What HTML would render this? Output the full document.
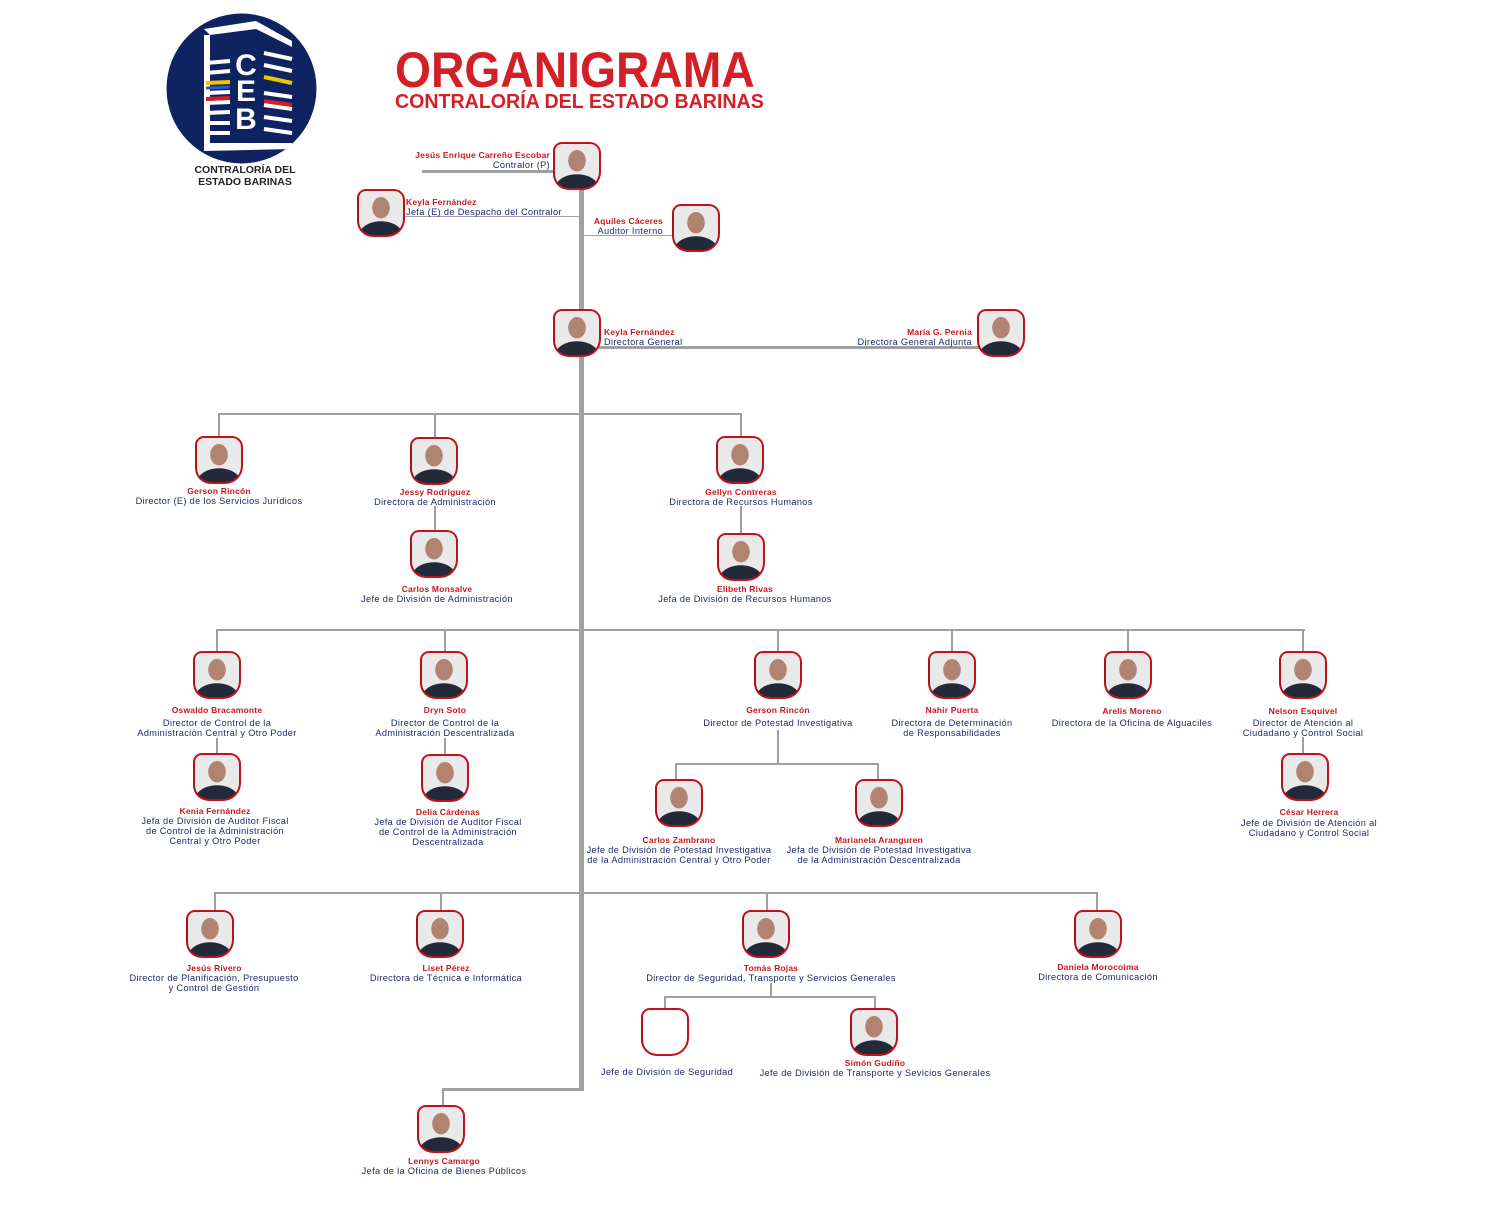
<!DOCTYPE html>
<html><head><meta charset="utf-8"><style>
body{margin:0;width:1500px;height:1229px;background:#fff;position:relative;overflow:hidden;font-family:"Liberation Sans",sans-serif}
div{position:absolute}
.p{width:44px;height:44px;border:2px solid #c1121c;border-left-color:#b01018;border-radius:9px 11px 18px 16px;
background:radial-gradient(ellipse 9px 11px at 50% 38%,#b08470 0 95%,transparent 100%),radial-gradient(ellipse 22px 14px at 50% 100%,#222a3a 0 96%,transparent 100%),#e9e9ea}
.e{background:#fff}
.n{color:#c8161e;font-weight:bold;font-size:8.5px;line-height:10px;white-space:nowrap;letter-spacing:0.2px}
.t{color:#1b2a6b;font-size:9.2px;line-height:10px;white-space:nowrap;letter-spacing:0.35px}
.c{width:320px;text-align:center}
.h{height:2px;background:#a0a0a0}
.v{width:2px;background:#a0a0a0}
</style></head><body>
<svg style="position:absolute;left:166px;top:13px" width="151" height="151" viewBox="0 0 151 151">
<circle cx="75.5" cy="75.5" r="75" fill="#0f2361"/>
<g fill="#fff">
<path d="M38 16 L90 8 L126 28 L126 34 L90 16 L44 22 Z"/>
<rect x="38" y="22" width="6" height="112"/>
<path d="M38 130 L126 130 L126 136 L38 138Z"/>
</g>
<g stroke="#fff" stroke-width="4">
<line x1="40" y1="50" x2="64" y2="48"/><line x1="40" y1="60" x2="64" y2="58"/><line x1="40" y1="80" x2="64" y2="79"/><line x1="40" y1="90" x2="64" y2="89"/><line x1="40" y1="100" x2="64" y2="99"/><line x1="40" y1="110" x2="64" y2="110"/><line x1="40" y1="120" x2="64" y2="120"/>
<line x1="98" y1="40" x2="126" y2="46"/><line x1="98" y1="52" x2="126" y2="58"/><line x1="98" y1="80" x2="126" y2="84"/><line x1="98" y1="92" x2="126" y2="96"/><line x1="98" y1="104" x2="126" y2="108"/><line x1="98" y1="116" x2="126" y2="120"/>
</g>
<line x1="40" y1="70" x2="64" y2="69" stroke="#f5c400" stroke-width="4"/><line x1="98" y1="64" x2="126" y2="70" stroke="#f5c400" stroke-width="4"/>
<line x1="40" y1="75" x2="64" y2="74" stroke="#2b5cc0" stroke-width="3"/><line x1="40" y1="86" x2="64" y2="85" stroke="#d51c24" stroke-width="4"/><line x1="98" y1="88" x2="126" y2="92" stroke="#d51c24" stroke-width="4"/>
<text x="80" y="62" fill="#fff" font-family="Liberation Sans" font-weight="bold" font-size="30" text-anchor="middle">C</text>
<text x="80" y="88" fill="#fff" font-family="Liberation Sans" font-weight="bold" font-size="30" text-anchor="middle">E</text>
<text x="80" y="116" fill="#fff" font-family="Liberation Sans" font-weight="bold" font-size="30" text-anchor="middle">B</text>
</svg>
<div style="left:160px;top:164px;width:170px;text-align:center;font-weight:bold;font-size:10.5px;line-height:12px;color:#222">CONTRALORÍA DEL<br>ESTADO BARINAS</div>
<div style="left:395px;top:42px;font-weight:bold;font-size:50px;line-height:56px;color:#d31f26;transform:scaleX(0.925);transform-origin:0 0">ORGANIGRAMA</div>
<div style="left:395px;top:90px;font-weight:bold;font-size:20px;line-height:24px;color:#d31f26;transform:scaleX(0.98);transform-origin:0 0">CONTRALORÍA DEL ESTADO BARINAS</div>

<div class="v" style="left:579px;top:188px;width:5px;height:903px"></div>
<div class="h" style="left:422px;top:170px;width:133px;height:3px"></div>
<div style="left:404px;top:216px;width:175px;height:1px;background:#a0a0a0"></div>
<div style="left:583px;top:235px;width:90px;height:1px;background:#a0a0a0"></div>
<div class="h" style="left:583px;top:346px;width:396px;height:3px"></div>
<div class="h" style="left:218px;top:413px;width:524px"></div>
<div class="v" style="left:218px;top:413px;height:24px"></div>
<div class="v" style="left:434px;top:413px;height:24px"></div>
<div class="v" style="left:740px;top:413px;height:24px"></div>
<div class="v" style="left:434px;top:506px;height:25px"></div>
<div class="v" style="left:740px;top:506px;height:28px"></div>
<div class="h" style="left:216px;top:629px;width:1089px"></div>
<div class="v" style="left:216px;top:629px;height:23px"></div>
<div class="v" style="left:444px;top:629px;height:23px"></div>
<div class="v" style="left:777px;top:629px;height:23px"></div>
<div class="v" style="left:951px;top:629px;height:23px"></div>
<div class="v" style="left:1127px;top:629px;height:23px"></div>
<div class="v" style="left:1302px;top:629px;height:23px"></div>
<div class="v" style="left:216px;top:738px;height:16px"></div>
<div class="v" style="left:444px;top:738px;height:16px"></div>
<div class="v" style="left:1302px;top:737px;height:17px"></div>
<div class="v" style="left:777px;top:730px;height:34px"></div>
<div class="h" style="left:675px;top:763px;width:204px"></div>
<div class="v" style="left:675px;top:763px;height:17px"></div>
<div class="v" style="left:877px;top:763px;height:17px"></div>
<div class="h" style="left:214px;top:892px;width:884px"></div>
<div class="v" style="left:214px;top:892px;height:19px"></div>
<div class="v" style="left:440px;top:892px;height:19px"></div>
<div class="v" style="left:766px;top:892px;height:19px"></div>
<div class="v" style="left:1096px;top:892px;height:19px"></div>
<div class="v" style="left:770px;top:983px;height:14px"></div>
<div class="h" style="left:664px;top:996px;width:212px"></div>
<div class="v" style="left:664px;top:996px;height:13px"></div>
<div class="v" style="left:874px;top:996px;height:13px"></div>
<div class="h" style="left:442px;top:1088px;width:142px;height:3px"></div>
<div class="v" style="left:442px;top:1088px;height:18px"></div>

<div class="p" style="left:553px;top:142px"></div>
<div class="p" style="left:357px;top:189px"></div>
<div class="p" style="left:672px;top:204px"></div>
<div class="p" style="left:553px;top:309px"></div>
<div class="p" style="left:977px;top:309px"></div>
<div class="p" style="left:195px;top:436px"></div>
<div class="p" style="left:410px;top:437px"></div>
<div class="p" style="left:716px;top:436px"></div>
<div class="p" style="left:410px;top:530px"></div>
<div class="p" style="left:717px;top:533px"></div>
<div class="p" style="left:193px;top:651px"></div>
<div class="p" style="left:420px;top:651px"></div>
<div class="p" style="left:754px;top:651px"></div>
<div class="p" style="left:928px;top:651px"></div>
<div class="p" style="left:1104px;top:651px"></div>
<div class="p" style="left:1279px;top:651px"></div>
<div class="p" style="left:193px;top:753px"></div>
<div class="p" style="left:421px;top:754px"></div>
<div class="p" style="left:1281px;top:753px"></div>
<div class="p" style="left:655px;top:779px"></div>
<div class="p" style="left:855px;top:779px"></div>
<div class="p" style="left:186px;top:910px"></div>
<div class="p" style="left:416px;top:910px"></div>
<div class="p" style="left:742px;top:910px"></div>
<div class="p" style="left:1074px;top:910px"></div>
<div class="p e" style="left:641px;top:1008px"></div>
<div class="p" style="left:850px;top:1008px"></div>
<div class="p" style="left:417px;top:1105px"></div>

<div style="left:300px;top:150px;width:250px;text-align:right"><div class="n" style="position:static">Jesús Enrique Carreño Escobar</div><div class="t" style="position:static">Contralor (P)</div></div>
<div style="left:406px;top:197px"><div class="n" style="position:static">Keyla Fernández</div><div class="t" style="position:static">Jefa (E) de Despacho del Contralor</div></div>
<div style="left:500px;top:216px;width:163px;text-align:right"><div class="n" style="position:static">Aquiles Cáceres</div><div class="t" style="position:static">Auditor Interno</div></div>
<div style="left:604px;top:327px"><div class="n" style="position:static">Keyla Fernández</div><div class="t" style="position:static">Directora General</div></div>
<div style="left:772px;top:327px;width:200px;text-align:right"><div class="n" style="position:static">María G. Pernia</div><div class="t" style="position:static">Directora General Adjunta</div></div>

<div class="c" style="left:59px;top:486px"><div class="n" style="position:static">Gerson Rincón</div><div class="t" style="position:static">Director (E) de los Servicios Jurídicos</div></div>
<div class="c" style="left:275px;top:487px"><div class="n" style="position:static">Jessy Rodríguez</div><div class="t" style="position:static">Directora de Administración</div></div>
<div class="c" style="left:581px;top:487px"><div class="n" style="position:static">Gellyn Contreras</div><div class="t" style="position:static">Directora de Recursos Humanos</div></div>
<div class="c" style="left:277px;top:584px"><div class="n" style="position:static">Carlos Monsalve</div><div class="t" style="position:static">Jefe de División de Administración</div></div>
<div class="c" style="left:585px;top:584px"><div class="n" style="position:static">Elibeth Rivas</div><div class="t" style="position:static">Jefa de División de Recursos Humanos</div></div>

<div class="c" style="left:57px;top:705px"><div class="n" style="position:static;margin-bottom:3px">Oswaldo Bracamonte</div><div class="t" style="position:static">Director de Control de la<br>Administración Central y Otro Poder</div></div>
<div class="c" style="left:285px;top:705px"><div class="n" style="position:static;margin-bottom:3px">Dryn Soto</div><div class="t" style="position:static">Director de Control de la<br>Administración Descentralizada</div></div>
<div class="c" style="left:618px;top:705px"><div class="n" style="position:static;margin-bottom:3px">Gerson Rincón</div><div class="t" style="position:static">Director de Potestad Investigativa</div></div>
<div class="c" style="left:792px;top:705px"><div class="n" style="position:static;margin-bottom:3px">Nahir Puerta</div><div class="t" style="position:static">Directora de Determinación<br>de Responsabilidades</div></div>
<div class="c" style="left:972px;top:706px"><div class="n" style="position:static;margin-bottom:2px">Arelis Moreno</div><div class="t" style="position:static">Directora de la Oficina de Alguaciles</div></div>
<div class="c" style="left:1143px;top:706px"><div class="n" style="position:static;margin-bottom:2px">Nelson Esquivel</div><div class="t" style="position:static">Director de Atención al<br>Ciudadano y Control Social</div></div>
<div class="c" style="left:55px;top:806px"><div class="n" style="position:static">Kenia Fernández</div><div class="t" style="position:static">Jefa de División de Auditor Fiscal<br>de Control de la Administración<br>Central y Otro Poder</div></div>
<div class="c" style="left:288px;top:807px"><div class="n" style="position:static">Delia Cárdenas</div><div class="t" style="position:static">Jefa de División de Auditor Fiscal<br>de Control de la Administración<br>Descentralizada</div></div>
<div class="c" style="left:1149px;top:807px"><div class="n" style="position:static;margin-bottom:1px">César Herrera</div><div class="t" style="position:static">Jefe de División de Atención al<br>Ciudadano y Control Social</div></div>
<div class="c" style="left:519px;top:835px"><div class="n" style="position:static">Carlos Zambrano</div><div class="t" style="position:static">Jefe de División de Potestad Investigativa<br>de la Administración Central y Otro Poder</div></div>
<div class="c" style="left:719px;top:835px"><div class="n" style="position:static">Marianela Aranguren</div><div class="t" style="position:static">Jefa de División de Potestad Investigativa<br>de la Administración Descentralizada</div></div>

<div class="c" style="left:54px;top:963px"><div class="n" style="position:static">Jesús Rivero</div><div class="t" style="position:static">Director de Planificación, Presupuesto<br>y Control de Gestión</div></div>
<div class="c" style="left:286px;top:963px"><div class="n" style="position:static">Liset Pérez</div><div class="t" style="position:static">Directora de Técnica e Informática</div></div>
<div class="c" style="left:611px;top:963px"><div class="n" style="position:static">Tomás Rojas</div><div class="t" style="position:static">Director de Seguridad, Transporte y Servicios Generales</div></div>
<div class="c" style="left:938px;top:962px"><div class="n" style="position:static">Daniela Morocoima</div><div class="t" style="position:static">Directora de Comunicación</div></div>
<div class="c" style="left:507px;top:1067px"><div class="t" style="position:static">Jefe de División de Seguridad</div></div>
<div class="c" style="left:715px;top:1058px"><div class="n" style="position:static">Simón Gudiño</div><div class="t" style="position:static">Jefe de División de Transporte y Sevicios Generales</div></div>
<div class="c" style="left:284px;top:1156px"><div class="n" style="position:static">Lennys Camargo</div><div class="t" style="position:static">Jefa de la Oficina de Bienes Públicos</div></div>
</body></html>
